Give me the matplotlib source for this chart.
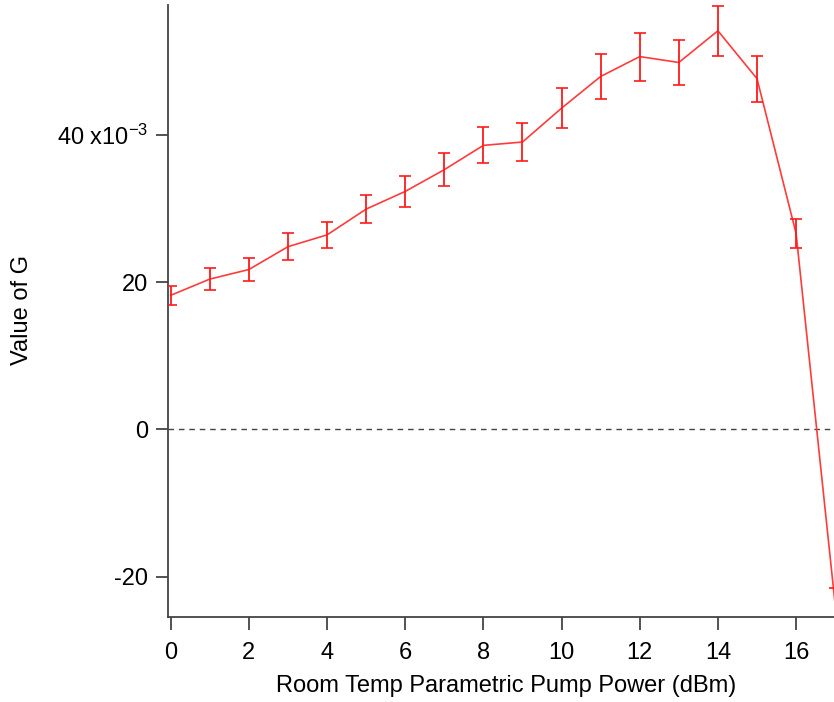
import matplotlib
matplotlib.use("Agg")
import matplotlib.pyplot as plt
from matplotlib.ticker import FixedLocator, FixedFormatter

plt.rcParams['font.family'] = ['Liberation Sans', 'DejaVu Sans']
plt.rcParams['mathtext.default'] = 'regular'

# Pump power (dBm) and measured G (x1e-3) with uncertainties
pump_power = [0, 1, 2, 3, 4, 5, 6, 7, 8, 9, 10, 11, 12, 13, 14, 15, 16, 17]
g_value = [18.2, 20.4, 21.7, 24.8, 26.4, 29.9, 32.3, 35.25, 38.55, 39.0,
           43.6, 47.9, 50.6, 49.8, 54.1, 47.6, 26.6, -23.8]
g_error = [1.3, 1.5, 1.5, 1.8, 1.8, 1.95, 2.1, 2.25, 2.45, 2.6,
           2.75, 3.1, 3.25, 3.1, 3.4, 3.1, 1.95, 2.3]

y_ticks = [-20, 0, 20, 40]
y_tick_labels = ['-20', '0', '20', r'40 x10$^{-3}$']
x_ticks = [0, 2, 4, 6, 8, 10, 12, 14, 16]

FS = 17

W, H = 834, 702
fig = plt.figure(figsize=(W / 100, H / 100), dpi=100)
left, right, top, bottom = 167.7, 834.0, 5.0, 617.3
ax = fig.add_axes([left / W, 1 - bottom / H, (right - left) / W, (bottom - top) / H])

ax.axhline(0, color='#444444', lw=1.0, ls=(0, (4, 3.5)), zorder=1)
ax.plot(pump_power, g_value, color='#ff3b3b', lw=1.2, zorder=3)
ax.errorbar(pump_power, g_value, yerr=g_error, fmt='none', ecolor='#ff1a1a',
            elinewidth=1.3, capsize=4.3, capthick=1.2, zorder=4)

ax.set_xlim(-0.077, 16.97)
ax.set_ylim(-25.5, 57.6)

ax.xaxis.set_major_locator(FixedLocator(x_ticks))
ax.yaxis.set_major_locator(FixedLocator(y_ticks))
ax.yaxis.set_major_formatter(FixedFormatter(y_tick_labels))

for side in ('top', 'right'):
    ax.spines[side].set_visible(False)
for side in ('left', 'bottom'):
    ax.spines[side].set_color('#444444')
    ax.spines[side].set_linewidth(1.3)

ax.tick_params(axis='both', direction='out', length=9, width=1.3,
               color='#444444', labelsize=FS, labelcolor='black')
ax.tick_params(axis='x', pad=9)
ax.tick_params(axis='y', pad=5)

fig.text(506.5 / W, 1 - 686 / H, 'Room Temp Parametric Pump Power (dBm)',
         fontsize=FS, ha='center', va='center')
fig.text(22 / W, 1 - 310 / H, 'Value of G', fontsize=FS, rotation=90,
         ha='center', va='center')

fig.savefig('out.png', dpi=100)
